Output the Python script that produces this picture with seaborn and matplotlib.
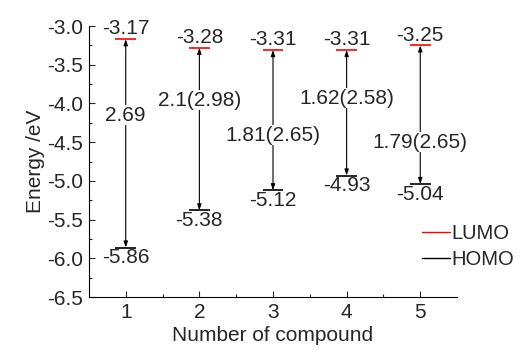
import numpy as np
import matplotlib.pyplot as plt
import seaborn as sns
from matplotlib.lines import Line2D

# energy levels (eV)
compounds = [1, 2, 3, 4, 5]
lumo = [-3.17, -3.28, -3.31, -3.31, -3.25]
homo = [-5.86, -5.38, -5.12, -4.93, -5.04]
gap_labels = ["2.69", "2.1(2.98)", "1.81(2.65)", "1.62(2.58)", "1.79(2.65)"]
gap_label_y = [-4.15, -3.96, -4.41, -3.93, -4.50]

sns.set_style("ticks")
plt.rcParams['font.family'] = ['Liberation Sans', 'DejaVu Sans']
fs = 15

fig = plt.figure(figsize=(5.2, 3.52), dpi=100)
ax = fig.add_axes([0.171, 0.156, 0.708, 0.770])

half = 0.14
ax.hlines(lumo, np.array(compounds) - half, np.array(compounds) + half, color="red", lw=1.2)
ax.hlines(homo, np.array(compounds) - half, np.array(compounds) + half, color="black", lw=1.2)

for x, lo, hi, lab, ly in zip(compounds, homo, lumo, gap_labels, gap_label_y):
    ax.annotate("", xy=(x, hi), xytext=(x, lo),
                arrowprops=dict(arrowstyle="<|-|>,head_length=0.35,head_width=0.12",
                                color="black", lw=0.8, shrinkA=0, shrinkB=0))
    ax.text(x, ly, lab, ha="center", va="center", fontsize=fs,
            bbox=dict(facecolor="white", edgecolor="none", pad=0.3))
    ax.text(x, hi + 0.01, f"{hi:.2f}", ha="center", va="bottom", fontsize=fs)
    ax.text(x, lo - 0.01, f"{lo:.2f}", ha="center", va="top", fontsize=fs)

ax.set_xlim(0.5, 5.5)
ax.set_ylim(-6.5, -3.0)
ax.set_xticks(compounds)
ax.set_xticks([1.5, 2.5, 3.5, 4.5], minor=True)
ax.set_yticks(np.arange(-6.5, -2.99, 0.5))
ax.set_yticks(np.arange(-6.25, -3.0, 0.5), minor=True)
ax.yaxis.set_major_formatter(plt.FormatStrFormatter("%.1f"))
ax.tick_params(which="major", direction="in", length=4, width=0.8, labelsize=fs, pad=4)
ax.tick_params(which="minor", direction="in", length=2.5, width=0.8)
sns.despine(ax=ax)
for s in ["left", "bottom"]:
    ax.spines[s].set_linewidth(0.8)
    ax.spines[s].set_color("black")

ax.set_xlabel("Number of compound", fontsize=fs, labelpad=3)
ax.set_ylabel("Energy /eV", fontsize=fs, labelpad=2)

handles = [Line2D([], [], color="red", lw=1), Line2D([], [], color="black", lw=1)]
fig.legend(handles, ["LUMO", "HOMO"], loc="center left", bbox_to_anchor=(0.812, 0.30),
           frameon=False, fontsize=14.5, handlelength=1.4, handletextpad=0.05,
           labelspacing=0.35, borderaxespad=0, borderpad=0)

fig.savefig("out.png", dpi=100)
